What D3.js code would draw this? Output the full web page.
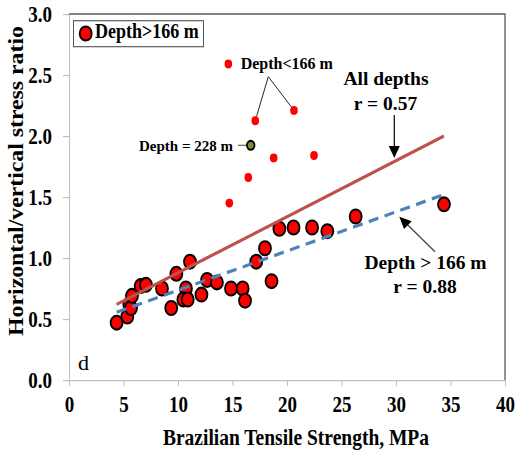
<!DOCTYPE html>
<meta charset="utf-8">
<title>Stress ratio vs tensile strength</title>
<style>
body { margin: 0; background: #fff; }
svg text { font-family: "Liberation Serif", "Times New Roman", serif; fill: #000; }
.axis path, .axis line { stroke: #bfbfbf; }
.axis text { font-size: 19px; font-weight: bold; }
.note { font-weight: bold; }
</style>
<svg width="523" height="450"></svg>
<script src="https://d3js.org/d3.v7.min.js"></script>
<script>

// samples deeper than 166 m
var deepX = [4.37, 5.35, 5.53, 5.69, 5.78, 6.57, 7.06, 8.53, 9.38, 9.85, 10.73, 10.49, 10.89, 11.1, 12.15,
             12.67, 13.57, 14.86, 15.93, 16.15, 17.18, 17.98, 18.58, 19.3, 20.6, 22.3, 23.7, 26.3, 34.4];
var deepY = [0.47, 0.52, 0.62, 0.59, 0.69, 0.77, 0.78, 0.75, 0.59, 0.87, 0.75, 0.66, 0.66, 0.97, 0.70,
             0.82, 0.80, 0.75, 0.75, 0.65, 0.97, 1.08, 0.81, 1.24, 1.25, 1.25, 1.22, 1.34, 1.44];

// shallow samples (depth < 166 m)
var shallowX = [14.62, 17.09, 20.64, 18.78, 22.48, 16.45, 14.71];
var shallowY = [2.59, 2.125, 2.21, 1.82, 1.84, 1.66, 1.45];

// the odd one out at 228 m
var odd228 = [16.67, 1.924];

// linear fits
var allFitX = [4.37, 34.4], allFitY = [0.62, 2.0];
var deepFitX = [4.37, 34.4], deepFitY = [0.555, 1.52];

var xTicks = [0, 5, 10, 15, 20, 25, 30, 35, 40];
var yTicks = [0, 0.5, 1, 1.5, 2, 2.5, 3];

var SY = 1.16; // chart layer is stretched vertically
var svg = d3.select("svg");
var chart = svg.append("g").attr("transform", "scale(1," + SY + ")");
var notes = svg.append("g");

var x = d3.scaleLinear().domain([0, 40]).range([69, 505]);
var y = d3.scaleLinear().domain([0, 3]).range([380 / SY, 14 / SY]);
function py(v) { return y(v) * SY; }

// axes
chart.append("g")
    .attr("class", "axis")
    .attr("transform", "translate(0," + y(0) + ")")
    .call(d3.axisBottom(x).tickValues(xTicks).tickSize(6 / SY).tickSizeOuter(0).tickFormat(d3.format("d")))
  .selectAll("text")
    .attr("y", 27.3)
    .attr("dy", 0);

chart.append("g")
    .attr("class", "axis")
    .attr("transform", "translate(" + x(0) + ",0)")
    .call(d3.axisLeft(y).tickValues(yTicks).tickSize(6).tickPadding(11).tickSizeOuter(0).tickFormat(d3.format(".1f")));

// top and right frame
chart.append("path")
    .attr("d", "M" + x(0) + "," + y(3) + "H" + x(40) + "V" + y(0))
    .attr("fill", "none")
    .attr("stroke", "#595959")
    .attr("stroke-width", 1.3);

// axis titles
chart.append("text")
    .attr("x", 296)
    .attr("y", 445 / SY)
    .attr("text-anchor", "middle")
    .style("font-size", "19.5px")
    .style("font-weight", "bold")
    .text("Brazilian Tensile Strength, MPa");

chart.append("text")
    .attr("transform", "translate(23," + (181 / SY) + ") rotate(-90)")
    .attr("text-anchor", "middle")
    .style("font-size", "20.5px")
    .style("font-weight", "bold")
    .text("Horizontal/vertical stress ratio");

// points
chart.selectAll(".deep")
    .data(deepX.map(function(d, i) { return [d, deepY[i]]; }))
  .enter().append("circle")
    .attr("class", "deep")
    .attr("cx", function(d) { return x(d[0]); })
    .attr("cy", function(d) { return y(d[1]); })
    .attr("r", 6)
    .attr("fill", "#ff0000")
    .attr("stroke", "#000")
    .attr("stroke-width", 1.8);

chart.selectAll(".shallow")
    .data(shallowX.map(function(d, i) { return [d, shallowY[i]]; }))
  .enter().append("circle")
    .attr("class", "shallow")
    .attr("cx", function(d) { return x(d[0]); })
    .attr("cy", function(d) { return y(d[1]); })
    .attr("r", 3.8)
    .attr("fill", "#ff0000");

chart.append("circle")
    .attr("cx", x(odd228[0]))
    .attr("cy", y(odd228[1]))
    .attr("r", 3.8)
    .attr("fill", "#76923c")
    .attr("stroke", "#000")
    .attr("stroke-width", 1.8);

// fit lines
var line = d3.line()
    .x(function(d) { return x(d[0]); })
    .y(function(d) { return y(d[1]); });

chart.append("path")
    .datum(allFitX.map(function(d, i) { return [d, allFitY[i]]; }))
    .attr("d", line)
    .attr("fill", "none")
    .attr("stroke", "#c0504d")
    .attr("stroke-width", 2.8);

chart.append("path")
    .datum(deepFitX.map(function(d, i) { return [d, deepFitY[i]]; }))
    .attr("d", line)
    .attr("fill", "none")
    .attr("stroke", "#4f81bd")
    .attr("stroke-width", 2.8)
    .attr("stroke-dasharray", "10,6.5");

// legend
chart.append("rect")
    .attr("x", 73.5)
    .attr("y", 20.7 / SY)
    .attr("width", 130)
    .attr("height", 26 / SY)
    .attr("fill", "#fff")
    .attr("stroke", "#595959");
chart.append("circle")
    .attr("cx", 85.7)
    .attr("cy", 33.5 / SY)
    .attr("r", 6)
    .attr("fill", "#ff0000")
    .attr("stroke", "#000")
    .attr("stroke-width", 1.8);
chart.append("text")
    .attr("x", 95)
    .attr("y", 38.5 / SY)
    .style("font-size", "18px")
    .style("font-weight", "bold")
    .text("Depth>166 m");

// annotations
function arrowHead(tx, ty, ang) {
  // triangle pointing along ang (radians) with tip at tx,ty
  var len = 12, half = 5.5;
  var bx = tx - len * Math.cos(ang), by = ty - len * Math.sin(ang);
  var nx = -Math.sin(ang) * half, ny = Math.cos(ang) * half;
  notes.append("path")
      .attr("d", "M" + tx + "," + ty + "L" + (bx + nx) + "," + (by + ny) + "L" + (bx - nx) + "," + (by - ny) + "Z")
      .attr("fill", "#000");
}

notes.append("text")
    .attr("class", "note")
    .attr("x", 240.7)
    .attr("y", 69.3)
    .style("font-size", "16px")
    .text("Depth<166 m");

var apex = [268.3, 76.7];
[1, 2].forEach(function(i) {
  var tx = x(shallowX[i]), ty = py(shallowY[i]);
  var dx = apex[0] - tx, dy = apex[1] - ty, dl = Math.sqrt(dx * dx + dy * dy);
  notes.append("line")
      .attr("x1", apex[0]).attr("y1", apex[1])
      .attr("x2", tx + dx / dl * 4.5).attr("y2", ty + dy / dl * 4.5)
      .attr("stroke", "#262626")
      .attr("stroke-width", 1);
});

notes.append("text")
    .attr("class", "note")
    .attr("x", 233)
    .attr("y", 150.5)
    .attr("text-anchor", "end")
    .style("font-size", "15px")
    .text("Depth = 228 m");
notes.append("line")
    .attr("x1", 238).attr("y1", py(odd228[1]))
    .attr("x2", x(odd228[0]) - 4.5).attr("y2", py(odd228[1]))
    .attr("stroke", "#404040")
    .attr("stroke-width", 1);

notes.append("text")
    .attr("class", "note")
    .attr("x", 386)
    .attr("y", 85)
    .attr("text-anchor", "middle")
    .style("font-size", "19.5px")
    .text("All depths");
notes.append("text")
    .attr("class", "note")
    .attr("x", 385.5)
    .attr("y", 110)
    .attr("text-anchor", "middle")
    .style("font-size", "19.5px")
    .text("r = 0.57");
notes.append("line")
    .attr("x1", 394.3).attr("y1", 115)
    .attr("x2", 394.3).attr("y2", 148)
    .attr("stroke", "#000")
    .attr("stroke-width", 1.2);
arrowHead(394.3, 158, Math.PI / 2);

notes.append("text")
    .attr("class", "note")
    .attr("x", 425.5)
    .attr("y", 269.3)
    .attr("text-anchor", "middle")
    .style("font-size", "19.5px")
    .text("Depth > 166 m");
notes.append("text")
    .attr("class", "note")
    .attr("x", 425)
    .attr("y", 293.3)
    .attr("text-anchor", "middle")
    .style("font-size", "19.5px")
    .text("r = 0.88");
var a2 = Math.atan2(216.7 - 251.7, 399.3 - 435);
notes.append("line")
    .attr("x1", 435).attr("y1", 251.7)
    .attr("x2", 399.3 - 9 * Math.cos(a2)).attr("y2", 216.7 - 9 * Math.sin(a2))
    .attr("stroke", "#404040")
    .attr("stroke-width", 1.2);
arrowHead(399.3, 216.7, a2);

notes.append("text")
    .attr("x", 78)
    .attr("y", 370)
    .style("font-size", "22px")
    .text("d");

</script>
